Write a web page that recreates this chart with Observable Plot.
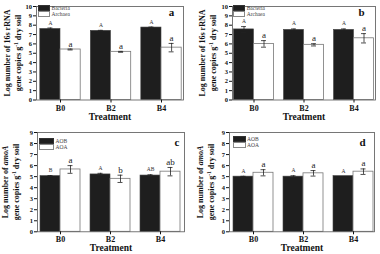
<!DOCTYPE html>
<html><head><meta charset="utf-8">
<script src="https://cdn.jsdelivr.net/npm/d3@7"></script>
<script src="https://cdn.jsdelivr.net/npm/@observablehq/plot@0.6"></script>
<style>
body{margin:0;background:#fff;}
#wrap{position:relative;width:380px;height:254px;overflow:hidden;font-family:"Liberation Serif",serif;background:#fff;}
#wrap svg{position:absolute;}
.ylab{position:absolute;width:120px;text-align:center;font-weight:bold;font-size:8px;line-height:10.5px;transform:translate(-50%,-50%) rotate(-90deg);white-space:nowrap;color:#111;}
.ylab sup{font-size:5.5px;line-height:0;vertical-align:3px;}
.sw{position:absolute;box-sizing:border-box;}
.lt{position:absolute;font-size:5.5px;color:#444;line-height:6px;white-space:nowrap;}
g[aria-label="x-axis tick label"]{font-weight:bold;font-size:8px;}
g[aria-label="y-axis tick label"]{font-weight:bold;font-size:6.5px;}
</style>
</head><body>
<div id="wrap"></div>
<script>
// ---- data ----
const treatments = ["B0", "B2", "B4"];
const yTicks16s = [0, 1, 2, 3, 4, 5, 6, 7, 8, 9, 10];
const yTicksAmoA = [0, 1, 2, 3, 4, 5, 6, 7, 8, 9];

// panel a (16s rRNA)
const aBacteria = [7.6, 7.4, 7.75];
const aBacteriaErr = [0.1, 0.05, 0.05];
const aBacteriaSig = ["A", "A", "A"];
const aArchaea = [5.4, 5.15, 5.6];
const aArchaeaErr = [0.05, 0.05, 0.45];
const aArchaeaSig = ["a", "a", "a"];

// panel b (16s rRNA)
const bBacteria = [7.55, 7.5, 7.5];
const bBacteriaErr = [0.3, 0.1, 0.1];
const bBacteriaSig = ["A", "A", "A"];
const bArchaea = [6.0, 5.9, 6.6];
const bArchaeaErr = [0.35, 0.12, 0.5];
const bArchaeaSig = ["a", "a", "a"];

// panel c (amoA)
const cAOB = [5.05, 5.2, 5.1];
const cAOBErr = [0.05, 0.1, 0.07];
const cAOBSig = ["B", "A", "AB"];
const cAOA = [5.65, 4.8, 5.45];
const cAOAErr = [0.35, 0.33, 0.38];
const cAOASig = ["a", "b", "ab"];

// panel d (amoA)
const dAOB = [5.0, 5.0, 5.05];
const dAOBErr = [0.03, 0.08, 0.0];
const dAOBSig = ["A", "A", "A"];
const dAOA = [5.35, 5.3, 5.45];
const dAOAErr = [0.28, 0.25, 0.25];
const dAOASig = ["a", "a", "a"];

const labels16s = ["Bacteria", "Archaea"];
const labelsAmoA = ["AOB", "AOA"];

// ---- drawing ----
const wrap = document.getElementById("wrap");

function rowsOf(vals, errs, sigs) {
  return treatments.map((t, i) => ({t, v: vals[i], e: errs[i], sig: sigs[i]}));
}

function panel(o) {
  const s = (o.xRange[1] - o.xRange[0]) / treatments.length;
  const bw = 0.4 * s;
  const cap = 2.5;
  const r1 = rowsOf(o.v1, o.e1, o.l1);
  const r2 = rowsOf(o.v2, o.e2, o.l2);
  const er1 = r1.filter(d => d.e > 0), er2 = r2.filter(d => d.e > 0);
  const errMarks = (rows, dx) => [
    Plot.ruleX(rows, {x: "t", y1: d => d.v - d.e, y2: d => d.v + d.e, dx, stroke: "#222", strokeWidth: 0.8}),
    Plot.tickY(rows, {x: "t", y: d => d.v + d.e, dx, insetLeft: s / 2 - cap, insetRight: s / 2 - cap, stroke: "#222", strokeWidth: 0.8}),
    Plot.tickY(rows, {x: "t", y: d => d.v - d.e, dx, insetLeft: s / 2 - cap, insetRight: s / 2 - cap, stroke: "#222", strokeWidth: 0.8})
  ];
  const svg = Plot.plot({
    width: 190, height: 127,
    marginLeft: o.mL, marginRight: o.mR, marginTop: o.mT, marginBottom: o.mB,
    style: {fontFamily: "Liberation Serif, serif", fontSize: "6.5px", color: "#111", background: "transparent", overflow: "visible"},
    x: {type: "band", domain: treatments, range: o.xRange, padding: 0, round: false, label: null},
    y: {domain: [0, o.yMax], label: null},
    marks: [
      Plot.barY(r1, {x: "t", y: "v", fill: "#1e1e1e", stroke: "#444", strokeWidth: 0.6, insetLeft: s / 2 - bw, insetRight: s / 2}),
      Plot.barY(r2, {x: "t", y: "v", fill: "#fff", stroke: "#777", strokeWidth: 0.8, insetLeft: s / 2, insetRight: s / 2 - bw}),
      ...errMarks(er1, -bw / 2),
      ...errMarks(er2, bw / 2),
      Plot.text(r1, {x: "t", y: d => d.v + d.e, text: "sig", dx: -bw / 2, dy: -3.5, lineAnchor: "bottom", fontSize: 5.5, fill: "#333"}),
      Plot.text(r2, {x: "t", y: d => d.v + d.e, text: "sig", dx: bw / 2, dy: -2.5, lineAnchor: "bottom", fontSize: 9, fill: "#222"}),
      Plot.frame({stroke: "#555", strokeWidth: 0.8}),
      Plot.axisY({ticks: o.yTicks, tickSize: 3, tickPadding: 1.5, tickFormat: d => String(d), label: null}),
      Plot.axisX({tickSize: 3, tickPadding: 2, label: null}),
      Plot.text(["Treatment"], {text: d => d, frameAnchor: "bottom", dy: o.tDy, textAnchor: "middle", lineAnchor: "middle", fontSize: 9.5, fontWeight: "bold", fill: "#111"}),
      Plot.text([o.letter], {text: d => d, frameAnchor: "top-right", dx: o.lDx, dy: o.lDy, textAnchor: "middle", lineAnchor: "middle", fontSize: 11, fontWeight: "bold", fill: "#111"})
    ]
  });
  svg.style.left = o.left + "px";
  svg.style.top = o.top + "px";
  wrap.appendChild(svg);

  // y-axis title
  const yl = document.createElement("div");
  yl.className = "ylab";
  yl.style.left = o.ylX + "px";
  yl.style.top = o.ylY + "px";
  yl.innerHTML = o.yTitle;
  wrap.appendChild(yl);

  // legend
  o.legendLabels.forEach((lab, i) => {
    const sw = document.createElement("div");
    sw.className = "sw";
    sw.style.left = o.lgX + "px";
    sw.style.top = (o.lgY + i * o.lgH) + "px";
    sw.style.width = o.lgW + "px";
    sw.style.height = o.lgH + "px";
    sw.style.background = i === 0 ? "#1e1e1e" : "#fff";
    sw.style.border = "0.8px solid " + (i === 0 ? "#333" : "#888");
    wrap.appendChild(sw);
    const tx = document.createElement("div");
    tx.className = "lt";
    tx.style.left = (o.lgX + o.lgW + 1.5) + "px";
    tx.style.top = (o.lgY + i * o.lgH + o.lgH / 2 - 3) + "px";
    tx.textContent = lab;
    wrap.appendChild(tx);
  });
}

const title16s = "Log number of 16s rRNA<br>gene copies g<sup>-1</sup> dry soil";
const titleAmoA = "Log number of <i>amoA</i><br>gene copies g<sup>-1</sup> dry soil";

panel({left: 0, top: 0, mL: 36, mR: 7, mT: 6, mB: 27.5, yMax: 10, yTicks: yTicks16s, xRange: [34.75, 186.25],
  v1: aBacteria, e1: aBacteriaErr, l1: aBacteriaSig, v2: aArchaea, e2: aArchaeaErr, l2: aArchaeaSig,
  letter: "a", lDx: -12, lDy: 6, tDy: 17, ylX: 12.5, ylY: 53, yTitle: title16s,
  legendLabels: labels16s, lgX: 37.5, lgY: 4.7, lgW: 12.5, lgH: 6.3});

panel({left: 190, top: 0, mL: 42, mR: 5, mT: 6, mB: 27.5, yMax: 10, yTicks: yTicks16s, xRange: [38.5, 188.5],
  v1: bBacteria, e1: bBacteriaErr, l1: bBacteriaSig, v2: bArchaea, e2: bArchaeaErr, l2: bArchaeaSig,
  letter: "b", lDx: -14, lDy: 6, tDy: 17, ylX: 207.5, ylY: 53, yTitle: title16s,
  legendLabels: labels16s, lgX: 232.7, lgY: 4.7, lgW: 12.5, lgH: 6});

panel({left: 0, top: 127, mL: 37, mR: 6, mT: 5, mB: 22.7, yMax: 9, yTicks: yTicksAmoA, xRange: [35, 185],
  v1: cAOB, e1: cAOBErr, l1: cAOBSig, v2: cAOA, e2: cAOAErr, l2: cAOASig,
  letter: "c", lDx: -7.5, lDy: 10, tDy: 16.5, ylX: 11, ylY: 182, yTitle: titleAmoA,
  legendLabels: labelsAmoA, lgX: 39, lgY: 138, lgW: 15, lgH: 6.2});

panel({left: 190, top: 127, mL: 39, mR: 6, mT: 5, mB: 22.7, yMax: 9, yTicks: yTicksAmoA, xRange: [38, 188],
  v1: dAOB, e1: dAOBErr, l1: dAOBSig, v2: dAOA, e2: dAOAErr, l2: dAOASig,
  letter: "d", lDx: -12, lDy: 10, tDy: 16.5, ylX: 206, ylY: 182, yTitle: titleAmoA,
  legendLabels: labelsAmoA, lgX: 232.5, lgY: 136.2, lgW: 13, lgH: 5.8});
</script>
</body></html>
